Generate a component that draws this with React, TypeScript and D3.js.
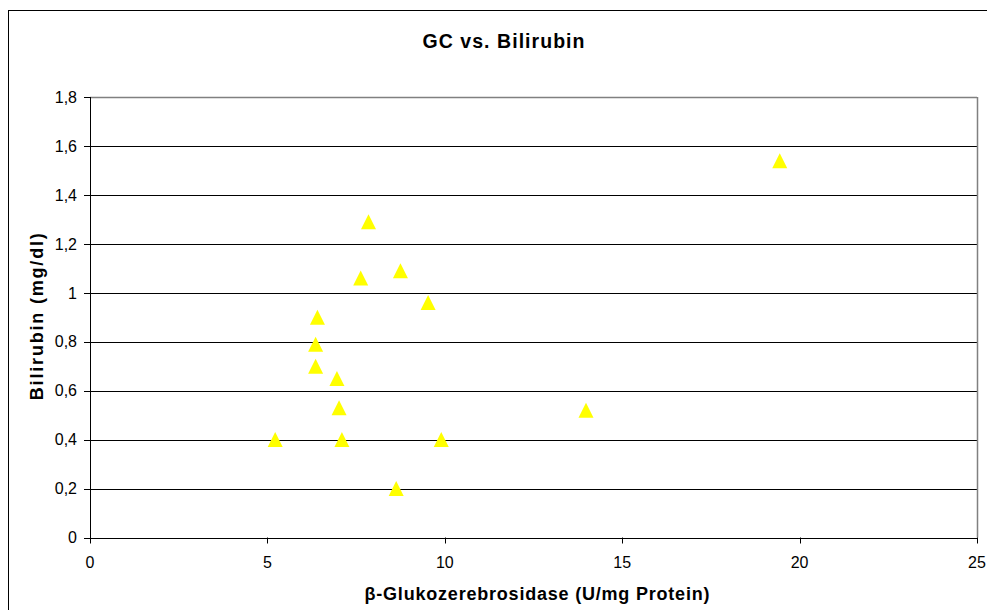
import React from "react";
import * as d3 from "d3";

const gcValues = [7.85, 8.75, 7.63, 9.53, 6.41, 6.36, 6.36, 6.96, 7.02, 5.22, 7.1, 9.9, 8.63, 13.98, 19.44];
const bilirubinValues = [1.29, 1.09, 1.06, 0.96, 0.9, 0.79, 0.7, 0.65, 0.53, 0.4, 0.4, 0.4, 0.2, 0.52, 1.54];
const xTicks = [0, 5, 10, 15, 20, 25];
const yTicks = [0, 0.2, 0.4, 0.6, 0.8, 1, 1.2, 1.4, 1.6, 1.8];

const title = "GC vs. Bilirubin";
const xLabel = "β-Glukozerebrosidase (U/mg Protein)";
const yLabel = "Bilirubin (mg/dl)";

export default function App() {
  const W = 987, H = 610;
  const left = 90, right = 977, top = 97, bottom = 537.5;
  const x = d3.scaleLinear().domain([0, 25]).range([left, right]);
  const y = d3.scaleLinear().domain([0, 1.8]).range([bottom, top]);
  const fmt = (v: number) => String(Math.round(v * 10) / 10).replace(".", ",");
  const font = "Arial, 'Liberation Sans', sans-serif";
  const tri = "M0,-7.5L7.5,7.5L-7.5,7.5Z";
  const px = (v: number) => Math.round(v) + 0.5;
  return (
    <svg width={W} height={H} style={{ position: "absolute", left: 0, top: 0, background: "#fff" }}>
      <rect x={8.5} y={10.5} width={995} height={620} fill="#fff" stroke="#000" strokeWidth={1} />
      <text x={503.5} y={47.5} textAnchor="middle" fontFamily={font} fontWeight="bold" fontSize={19.5} fill="#000" textLength={162} lengthAdjust="spacing">{title}</text>
      {yTicks.slice(1).map((t) => (
        <line key={"g" + t} x1={left} x2={right} y1={px(y(t))} y2={px(y(t))} stroke="#000" strokeWidth={1} />
      ))}
      <line x1={left} x2={right} y1={px(y(1.8))} y2={px(y(1.8))} stroke="#808080" strokeWidth={1.5} />
      <line x1={px(right)} x2={px(right)} y1={top} y2={bottom} stroke="#808080" strokeWidth={1.5} />
      <line x1={px(left)} x2={px(left)} y1={top} y2={bottom + 0.5} stroke="#000" strokeWidth={1} />
      <line x1={left} x2={right} y1={px(bottom)} y2={px(bottom)} stroke="#000" strokeWidth={1} />
      {yTicks.map((t) => (
        <g key={"y" + t}>
          <line x1={left - 6} x2={left} y1={px(y(t))} y2={px(y(t))} stroke="#000" />
          <text x={77} y={y(t)} dy="0.36em" textAnchor="end" fontFamily={font} fontSize={16} fill="#000">{fmt(t)}</text>
        </g>
      ))}
      {xTicks.map((t) => (
        <g key={"x" + t}>
          <line x1={px(x(t))} x2={px(x(t))} y1={bottom} y2={bottom + 6} stroke="#000" />
          <text x={x(t)} y={567.5} textAnchor="middle" fontFamily={font} fontSize={16} fill="#000">{fmt(t)}</text>
        </g>
      ))}
      <text x={537} y={599.5} textAnchor="middle" fontFamily={font} fontWeight="bold" fontSize={18} fill="#000" textLength={345} lengthAdjust="spacing">{xLabel}</text>
      <text transform={`translate(42.5,316.7) rotate(-90)`} textAnchor="middle" fontFamily={font} fontWeight="bold" fontSize={18} fill="#000" textLength={167} lengthAdjust="spacing">{yLabel}</text>
      {gcValues.map((g, i) => (
        <path key={"p" + i} d={tri} transform={`translate(${x(g)},${y(bilirubinValues[i])})`} fill="#FFFF00" />
      ))}
    </svg>
  );
}
